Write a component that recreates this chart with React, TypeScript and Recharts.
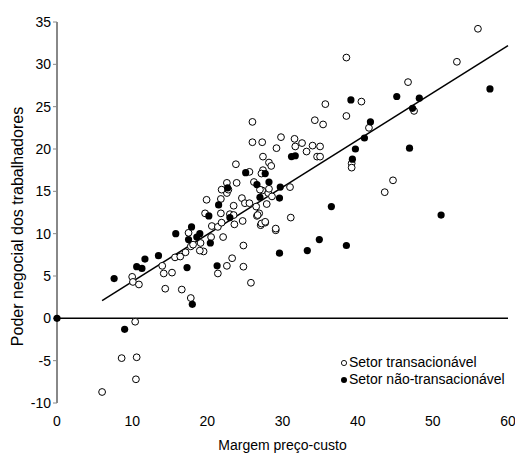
import React from "react";
import {
  ScatterChart,
  Scatter,
  XAxis,
  YAxis,
  ReferenceLine,
  Label,
} from "recharts";

// Setor transacionável (open circles)
const tradX = [
  6.0, 8.6, 10.4, 10.6, 10.5, 10.0, 10.1, 10.9, 14.0, 14.2, 14.4, 15.3, 15.7, 16.4, 16.6, 17.1, 17.5, 17.8, 18.1, 17.8,
  19.1, 19.5, 19.0, 20.6, 20.5, 21.4, 21.4, 22.1, 22.6, 23.3, 23.6, 24.8, 24.8, 25.8, 21.9, 24.7,
  19.9, 21.8, 22.6, 22.8, 23.5, 19.7, 24.6, 25.0, 25.6, 26.5, 27.3, 28.1, 27.9, 28.6, 26.6, 23.0, 27.7, 27.1, 29.1, 21.8, 23.5, 26.9,
  26.0, 26.0, 23.8, 22.6, 23.9, 21.9, 25.6, 26.2,
  38.5, 35.7, 40.5, 38.5, 34.3, 35.4, 27.3, 29.8, 29.2, 31.6, 31.7, 32.6, 34.0, 35.0, 33.2, 34.6, 35.0, 27.4, 28.2, 28.5,
  27.4, 27.2, 27.0, 28.2, 26.7, 27.2, 27.7, 29.1, 31.0, 31.1, 41.5, 39.2, 39.2, 44.7, 43.6, 46.7, 47.5, 53.2, 56.0,
];
const tradY = [
  -8.7, -4.7, -0.4, -4.6, -7.2, 4.9, 4.3, 4.0, 6.2, 5.3, 3.5, 5.4, 7.2, 7.3, 3.4, 7.8, 10.1, 8.5, 8.7, 2.4,
  8.9, 7.9, 8.0, 10.9, 9.6, 10.8, 5.3, 9.6, 6.2, 7.1, 11.1, 8.6, 6.1, 4.2, 11.3, 11.5,
  14.0, 14.1, 14.8, 15.2, 13.3, 12.4, 14.2, 13.6, 13.6, 13.2, 15.1, 14.8, 13.5, 14.4, 12.1, 12.3, 11.3, 11.0, 10.4, 12.4, 12.2, 12.4,
  23.2, 20.8, 18.2, 16.0, 16.0, 15.2, 17.3, 16.1,
  30.8, 25.3, 25.6, 23.9, 23.4, 22.9, 20.8, 21.4, 20.1, 21.2, 20.3, 20.7, 20.4, 20.3, 19.7, 19.1, 19.1, 19.1, 18.4, 18.0,
  17.5, 17.1, 15.2, 15.3, 12.2, 11.2, 11.4, 10.6, 15.5, 11.9, 22.5, 18.3, 17.8, 16.3, 14.9, 27.9, 24.5, 30.3, 34.2,
];

// Setor não-transacionável (filled circles)
const nonTradX = [
  0, 7.6, 9.0, 10.6, 11.3, 11.7, 13.5, 15.8, 17.3, 17.9, 17.5, 18.0, 18.6, 19.0, 20.4, 21.3, 21.5, 20.2, 23.0, 22.7,
  25.1, 26.6, 27.0, 27.7, 28.2, 29.7, 29.6, 29.6, 31.2, 31.7, 33.3, 34.9, 36.5, 38.5, 39.1, 39.7, 39.3, 40.9, 41.7,
  45.2, 47.3, 48.2, 46.9, 51.1, 57.6,
];
const nonTradY = [
  0, 4.7, -1.3, 6.1, 5.9, 7.0, 7.4, 10.0, 6.0, 10.8, 9.3, 1.65, 9.6, 10.0, 8.9, 6.2, 13.4, 12.1, 11.9, 15.4,
  17.2, 15.8, 14.3, 17.1, 16.1, 15.5, 14.2, 7.7, 19.1, 19.2, 8.0, 9.3, 13.2, 8.6, 25.8, 20.0, 18.8, 21.3, 23.2,
  26.2, 24.8, 26.0, 20.1, 12.2, 27.1,
];

// Trend line endpoints
const trendX = [6, 60];
const trendY = [2.1, 32.2];

const xTicks = [0, 10, 20, 30, 40, 50, 60];
const yTicks = [-10, -5, 0, 5, 10, 15, 20, 25, 30, 35];

const seriesNames = ["Setor transacionável", "Setor não-transacionável"];
const xTitle = "Margem preço-custo";
const yTitle = "Poder negocial dos trabalhadores";

const tradData = tradX.map((x, i) => ({ x, y: tradY[i] }));
const nonTradData = nonTradX.map((x, i) => ({ x, y: nonTradY[i] }));

const FONT = "'Liberation Sans', Arial, sans-serif";

const OpenDot = (props: any) => (
  <circle cx={props.cx} cy={props.cy} r={3.4} fill="#fff" stroke="#000" strokeWidth={1} />
);
const FilledDot = (props: any) => (
  <circle cx={props.cx} cy={props.cy} r={3.6} fill="#000" stroke="none" />
);

const LegendBox = () => (
  <div
    style={{
      position: "absolute",
      left: 340,
      top: 354,
      fontFamily: FONT,
      fontSize: 14,
      color: "#000",
      lineHeight: "17px",
    }}
  >
    {seriesNames.map((n, i) => (
      <div key={n} style={{ display: "flex", alignItems: "center", whiteSpace: "nowrap", height: 17 }}>
        <svg width={8} height={8} style={{ marginRight: 1 }}>
          <circle
            cx={4}
            cy={4}
            r={i === 0 ? 2.6 : 3}
            fill={i === 0 ? "#fff" : "#000"}
            stroke="#000"
            strokeWidth={i === 0 ? 0.9 : 0}
          />
        </svg>
        <span>{n}</span>
      </div>
    ))}
  </div>
);

export default function App() {
  return (
    <div style={{ position: "absolute", left: 0, top: 0, width: 515, height: 454 }}>
      <ScatterChart
        width={515}
        height={454}
        margin={{ top: 22, right: 7, left: 0, bottom: 0 }}
      >
        <XAxis
          type="number"
          dataKey="x"
          domain={[0, 60]}
          ticks={xTicks}
          axisLine={false}
          tickLine={false}
          tickSize={6}
          tickMargin={7}
          height={51}
          tick={{ fontFamily: FONT, fontSize: 14, fill: "#000" }}
          interval={0}
        >
          <Label
            value={xTitle}
            position="insideBottom"
            offset={4}
            style={{ fontFamily: FONT, fontSize: 14, fill: "#000" }}
          />
        </XAxis>
        <YAxis
          type="number"
          dataKey="y"
          domain={[-10, 35]}
          ticks={yTicks}
          width={57}
          axisLine={{ stroke: "#888", strokeWidth: 2 }}
          tickLine={{ stroke: "#888", strokeWidth: 1 }}
          tickSize={4}
          tickMargin={2}
          tick={{ fontFamily: FONT, fontSize: 14, fill: "#000" }}
          interval={0}
        >
          <Label
            value={yTitle}
            content={(p: any) => {
              const vb = p.viewBox || {};
              const cy = vb.y + vb.height / 2 + 14;
              return (
                <text
                  x={23}
                  y={cy}
                  transform={`rotate(-90, 23, ${cy})`}
                  textAnchor="middle"
                  fontFamily={FONT}
                  fontSize={16}
                  fill="#000"
                >
                  {yTitle}
                </text>
              );
            }}
          />
        </YAxis>
        <ReferenceLine y={0} stroke="#000" strokeWidth={1.5} />
        <ReferenceLine
          segment={[
            { x: trendX[0], y: trendY[0] },
            { x: trendX[1], y: trendY[1] },
          ]}
          stroke="#000"
          strokeWidth={1.5}
          ifOverflow="visible"
        />
        <Scatter
          name={seriesNames[0]}
          data={tradData}
          shape={OpenDot}
          isAnimationActive={false}
        />
        <Scatter
          name={seriesNames[1]}
          data={nonTradData}
          shape={FilledDot}
          isAnimationActive={false}
        />
      </ScatterChart>
      <LegendBox />
    </div>
  );
}
